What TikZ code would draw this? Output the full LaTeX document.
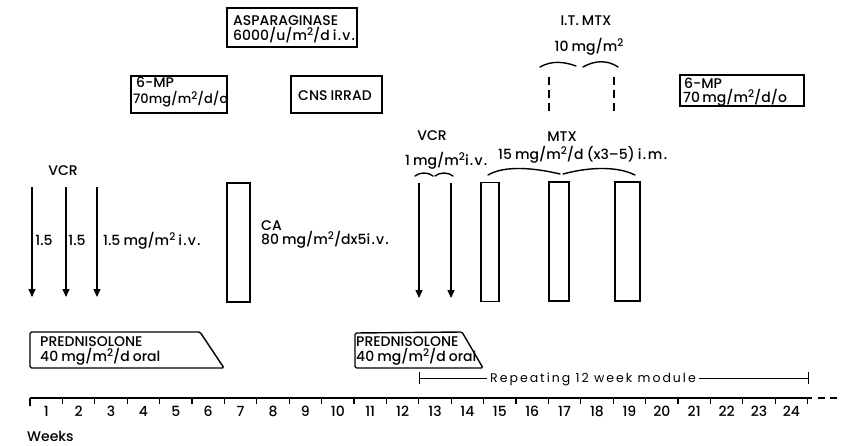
\documentclass[tikz,border=0pt]{standalone}
\usepackage{fontspec}
\setmainfont{Poppins Medium}[WordSpace=0.85]
\newfontfamily\spacedfont{Poppins}[LetterSpace=16]
\usetikzlibrary{arrows.meta}
\newcommand\sqd{\raisebox{0.6ex}{\fontsize{10.5}{10.5}\selectfont 2}}
\newcommand\iv{i\kern1.2pt.\kern1.2pt v\kern1.2pt.}
\begin{document}
\begin{tikzpicture}[x=1pt,y=-1pt,
  every node/.style={inner sep=0pt, font=\fontsize{14}{15}\selectfont},
  txt/.style={anchor=base west},
  ctr/.style={anchor=base},
  drugbox/.style={draw, line width=1.4pt},
  bar/.style={draw, line width=1.4pt, minimum width=#1, minimum height=119pt},
  vcr/.style={line width=1.4pt, -{Triangle[length=8pt,width=7pt]}},
  brc/.style={line width=1.4pt, line cap=round},
  thin/.style={line width=1pt}]
\useasboundingbox (0,0) rectangle (841,445);

% top boxes
\node[drugbox, minimum width=130pt, minimum height=39pt] (asp) at (292,27.5) {};
\node[txt] (asp1) at (233,25) {ASPARAGINASE};
\node[txt] (asp2) at (233,40.5) {6000/u/m\sqd/d \iv};
\node[drugbox, minimum width=96pt, minimum height=37pt] (mp1) at (179,94.5) {};
\node[txt] (mp1a) at (136,87.5) {6-MP};
\node[txt, font=\fontsize{13}{15}\selectfont] (mp1b) at (133,103.5) {70mg/m\sqd/d/o};
\node[drugbox, minimum width=91pt, minimum height=37pt] (cns) at (336.5,94.5) {};
\node[ctr] (cnstxt) at (335,100) {CNS IRRAD};
\node[drugbox, minimum width=124pt, minimum height=31pt] (mp2) at (742,90.5) {};
\node[txt] (mp2a) at (684,88) {6-MP};
\node[txt] (mp2b) at (683,102) {70\,mg/m\sqd/d/o};

% I.T. MTX
\node[ctr] (itmtx) at (586,25) {I.T. MTX};
\node[ctr] (itdose) at (589,51) {10 mg/m\sqd};
\coordinate (ib1a) at (540,67); \coordinate (ib1b) at (576,66);
\coordinate (ib2a) at (583,67); \coordinate (ib2b) at (618,67);
\draw[brc] (ib1a) .. controls (552,60) and (565,62) .. (ib1b);
\draw[brc] (ib2a) .. controls (595,60) and (608,60) .. (ib2b);
\coordinate (d1a) at (549,77); \coordinate (d1b) at (549,112);
\coordinate (d2a) at (614,77); \coordinate (d2b) at (614,112);
\draw[line width=1.8pt, dash pattern=on 8pt off 5pt] (d1a) -- (d1b);
\draw[line width=1.8pt, dash pattern=on 8pt off 5pt] (d2a) -- (d2b);

% VCR first group
\node[ctr] (vcr1) at (63,175) {VCR};
\foreach \i/\x in {a/32,b/66,c/97}{
  \coordinate (v1\i t) at (\x,187); \coordinate (v1\i b) at (\x,297);
  \draw[vcr] (v1\i t) -- (v1\i b);}
\node[ctr] (l1) at (44,245) {1.5};
\node[ctr] (l2) at (77,245) {1.5};
\node[txt] (l3) at (103,245) {1.5 mg/m\sqd\ \iv};

% CA
\node[bar=23pt] (ca) at (238.5,242.5) {};
\node[txt] (ca1) at (261,230) {CA};
\node[txt] (ca2) at (261,244) {80 mg/m\sqd/dx5\iv};

% VCR second group
\node[ctr] (vcr2) at (432,140) {VCR};
\node[txt] (vdose) at (405,165) {1 mg/m\sqd\iv};
\draw[brc] (415,176) .. controls (420,172) and (428,172) .. (433,176);
\draw[brc] (435,176) .. controls (440,172) and (448,172) .. (453,176);
\foreach \i/\x in {a/419,b/451}{
  \coordinate (v2\i t) at (\x,183); \coordinate (v2\i b) at (\x,298);
  \draw[vcr] (v2\i t) -- (v2\i b);}

% MTX
\node[ctr] (mtx) at (562,141) {MTX};
\node[txt] (mtxdose) at (498,159) {15 mg/m\sqd/d (x3--5) i\kern1.5pt.\kern1.5pt m\kern1.5pt.};
\draw[brc] (488,175) .. controls (505,165) and (535,168) .. (560,174);
\draw[brc] (563,174) .. controls (585,168) and (615,165) .. (635,175);
\node[bar=18pt] (m1) at (490,242) {};
\node[bar=20pt] (m2) at (559,241.5) {};
\node[bar=25pt] (m3) at (627.5,241.5) {};

% Prednisolone
\draw[line width=1.4pt, rounded corners=1.5pt] (30,332) -- (200,332) -- (224,368) -- (30,368) -- cycle;
\node[txt] (p1a) at (40,346) {PREDNISOLONE};
\node[txt] (p1b) at (40,361) {40 mg/m\sqd/d oral};
\draw[line width=1.4pt, rounded corners=1.5pt] (355,333) -- (462,332) -- (483,368) -- (355,368) -- cycle;
\node[txt] (p2a) at (356,346) {PREDNISOLONE};
\node[txt] (p2b) at (356,361) {40 mg/m\sqd/d oral};

% Repeating module
\coordinate (ra) at (419,378); \coordinate (rb) at (808,378);
\node[txt, font=\fontsize{12.5}{12}\selectfont\spacedfont] (rep) at (490,382.5) {Repeating 12 week module};
\draw[thin] (ra) -- (487,378);
\draw[thin] (rep.east |- ra) ++(3,0) -- (rb);
\draw[thin] (419,372) -- (419,384);
\draw[thin] (808,372) -- (808,384);

% axis
\coordinate (ax0) at (30,398); \coordinate (ax1) at (812,398);
\draw[line width=1.5pt] (ax0) -- (ax1);
\draw[line width=1.5pt] (30,397.5) -- (30,406);
\foreach \k in {1,...,24}{
  \draw[line width=1.3pt] (30+32.4*\k,398) -- (30+32.4*\k,404);
  \node[ctr] (w\k) at (30+32.4*\k-16.2,416) {\k};}
\draw[line width=1.5pt, dash pattern=on 7pt off 5pt] (818,398) -- (841,398);
\node[txt] (weeks) at (27,441) {Weeks};
\end{tikzpicture}
\end{document}
